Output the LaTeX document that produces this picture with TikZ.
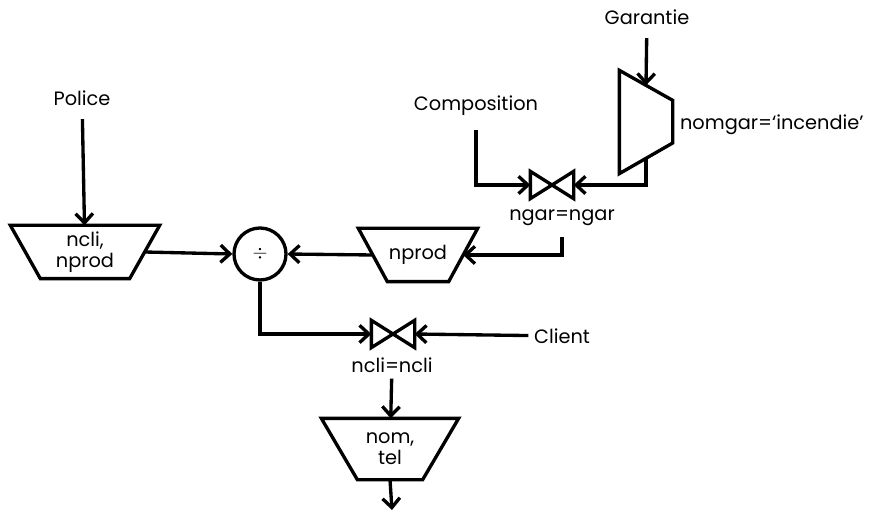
\documentclass[tikz,border=0pt]{standalone}
\usepackage{fontspec}
\setmainfont{Poppins}
\usetikzlibrary{arrows.meta}
\begin{document}
\begin{tikzpicture}[x=0.75pt, y=-0.75pt, line width=2.5pt, line join=miter, font=\fontsize{14.5}{15.5}\selectfont,
	>={Straight Barb[length=7pt,width=13pt]},
	box/.style={align=center, inner sep=0pt},
	lbl/.style={inner xsep=3pt, inner ysep=9pt},
	joinop/.style={minimum width=30pt, minimum height=18pt, inner sep=0pt}]
	% zone de dessin
	\useasboundingbox (0,0) rectangle (882,513);
	% relations de base
	\node[lbl] (police) at (82,98) {Police};
	\node[lbl] (compo) at (476,106) {Composition};
	\node[lbl] (garantie) at (647,17) {Garantie};
	\node[lbl] (client) at (562,336) {Client};
	% projections
	\node[box, minimum width=109.5pt, minimum height=37.5pt] (ncliprod) at (85,252) {ncli,\\nprod};
	\node[box, minimum width=87pt, minimum height=37.5pt] (nprod) at (418,255) {nprod};
	\node[box, minimum width=100.5pt, minimum height=43.5pt] (nomtel) at (390,449) {nom,\\tel};
	\foreach \n/\d in {ncliprod/22.5pt, nprod/21.75pt, nomtel/27pt}
	\draw (\n.north west) -- (\n.north east) -- ([xshift=-\d]\n.south east) -- ([xshift=\d]\n.south west) -- cycle;
	% selection
	\node[box, minimum width=37.5pt, minimum height=75pt] (sel) at (646,122) {};
	\draw (sel.north west) -- ([yshift=-22.5pt]sel.north east) -- ([yshift=23pt]sel.south east) -- (sel.south west) -- cycle;
	\node[anchor=west] (lnomgar) at (674,125) {nomgar=‘incendie’};
	% division
	\node[draw, circle, minimum size=39pt, inner sep=0pt] (div) at (260,254) {$\div$};
	% jointures
	\node[joinop] (j1) at (552,185) {};
	\node[joinop] (j2) at (393,334) {};
	\foreach \j in {j1,j2}
	\draw (\j.north west) -- (\j.south east) -- (\j.north east) -- (\j.south west) -- cycle;
	\node (lngar) at (562,218) {ngar=ngar};
	\node (lncli) at (392,365) {ncli=ncli};
	\coordinate (ngarout) at (562,237);
	\coordinate (result) at (392,510);
	% liens
	\draw[->] (police) -- (ncliprod);
	\draw[->] (garantie) -- ([yshift=-11.25pt]sel.north);
	\draw[->] ([yshift=11.25pt]sel.south) |- (j1.east);
	\draw[->] (compo) |- (j1.west);
	\draw[->] (ngarout) |- ([xshift=-10.9pt]nprod.east);
	\draw[->] ([xshift=10.9pt]nprod.west) -- (div.east);
	\draw[->] ([xshift=-11.25pt]ncliprod.east) -- (div.west);
	\draw[->] (div.south) |- (j2.west);
	\draw[->] (client) -- (j2.east);
	\draw[->] (lncli) -- (nomtel);
	\draw[->] (nomtel.south) -- (result);
\end{tikzpicture}
\end{document}
